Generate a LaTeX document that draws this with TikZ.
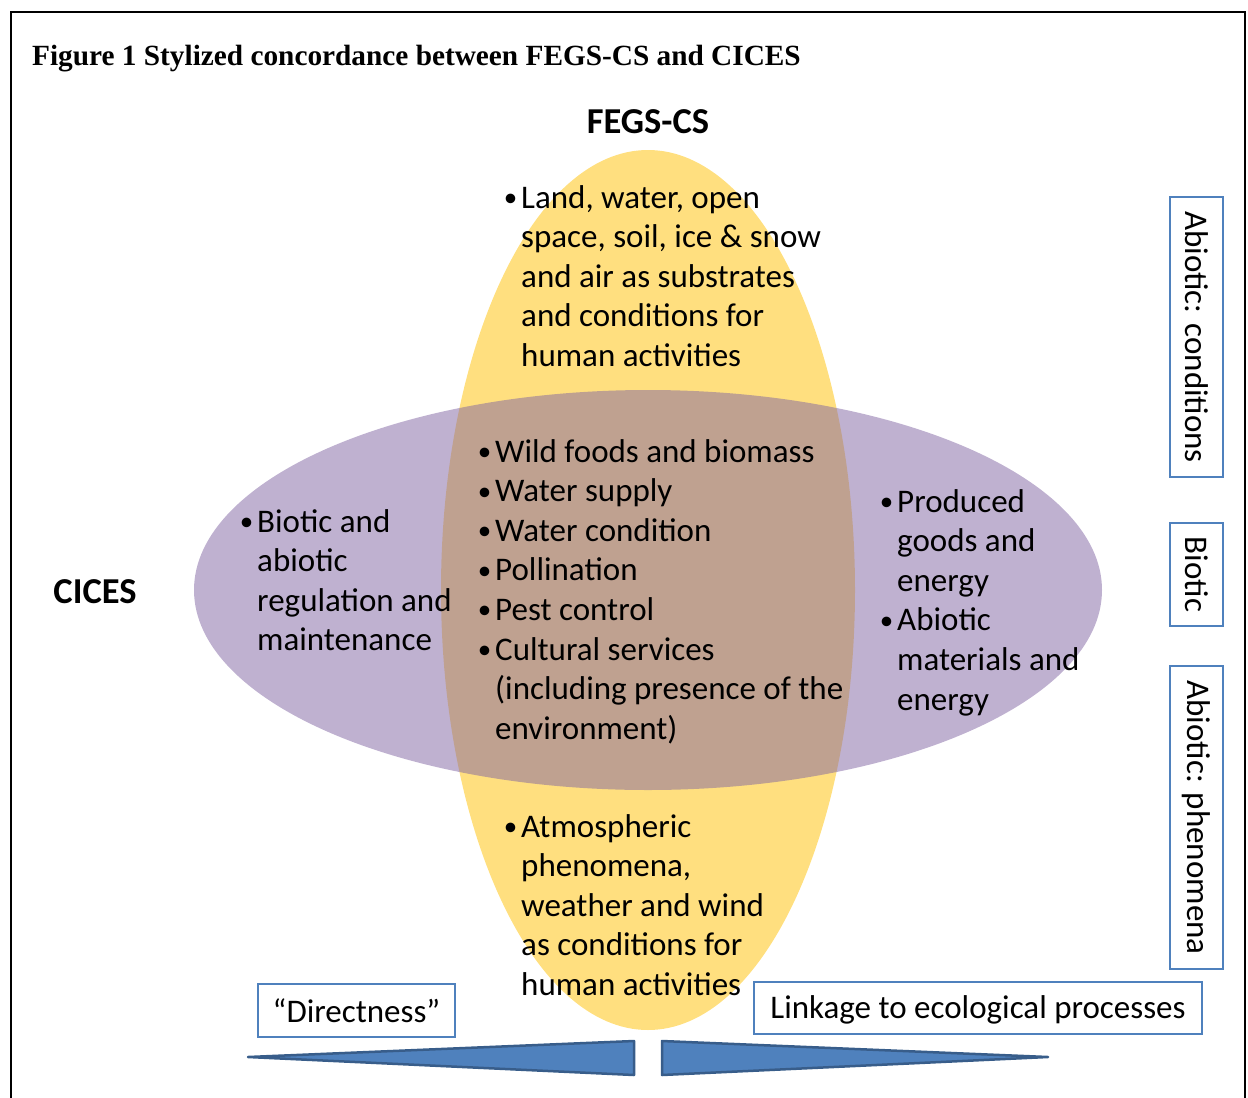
\documentclass[tikz,border=0pt]{standalone}
\usepackage{fontspec}
\setmainfont{Carlito}
\newfontfamily\titlefont{Liberation Serif}
\definecolor{yel}{HTML}{FFC000}
\definecolor{pur}{HTML}{8064A2}
\definecolor{boxblue}{HTML}{4F81BD}
\definecolor{arrfill}{HTML}{4F81BD}
\definecolor{arrdraw}{HTML}{385D8A}
\newcommand{\bul}{\llap{\raisebox{1.5pt}{\fontsize{27}{27}\selectfont\textbullet}\hspace{4pt}}}
\newcommand{\blk}[1]{\begin{tabular}[t]{@{}l@{}}#1\end{tabular}}
\begin{document}
\begin{tikzpicture}[x=1pt,y=-1pt,
  txt/.style={font=\fontsize{33}{39.6}\selectfont, inner sep=0pt, anchor=base west},
  hdr/.style={font=\fontsize{36.5}{40}\selectfont\bfseries, inner sep=0pt, anchor=base},
  lblbox/.style={draw=boxblue, line width=1.2pt, fill=white, inner sep=0pt, font=\fontsize{33}{38}\selectfont},
  wedge/.style={fill=arrfill, draw=arrdraw, line width=2.5pt, line join=round}]
\useasboundingbox (0,0) rectangle (1248,1098);
% frame
\draw[line width=2pt] (11,1100) -- (11,12) -- (1245,12) -- (1245,1100);
% title
\node[inner sep=0pt, anchor=base west, font=\titlefont\fontsize{29.3}{34}\selectfont\bfseries] (title) at (32,65) {Figure 1 Stylized concordance between FEGS-CS and CICES};
% ellipses
\fill[yel, opacity=0.5] (648,590) ellipse [x radius=207, y radius=440];
\fill[pur, opacity=0.5] (648,590) ellipse [x radius=454, y radius=200];
% headers
\node[hdr] (fegs) at (648,133) {FEGS-CS};
\node[hdr] (cices) at (95,603) {CICES};
% text blocks
\node[txt] (top) at (521,208) {\blk{\bul Land, water, open\\space, soil, ice \& snow\\and air as substrates\\and conditions for\\human activities}};
\node[txt] (mid) at (495,462) {\blk{\bul Wild foods and biomass\\\bul Water supply\\\bul Water condition\\\bul Pollination\\\bul Pest control\\\bul Cultural services\\(including presence of the\\environment)}};
\node[txt] (left) at (257,532) {\blk{\bul Biotic and\\abiotic\\regulation and\\maintenance}};
\node[txt] (right) at (897,512) {\blk{\bul Produced\\goods and\\energy\\\bul Abiotic\\materials and\\energy}};
\node[txt] (bot) at (521,837) {\blk{\bul Atmospheric\\phenomena,\\weather and wind\\as conditions for\\human activities}};
% right boxes
\node[lblbox, rotate=-90, minimum width=280, minimum height=53] (abc) at (1196.5,337) {Abiotic: conditions};
\node[lblbox, rotate=-90, minimum width=103, minimum height=53] (bio) at (1196.5,574.5) {Biotic};
\node[lblbox, rotate=-90, minimum width=303, minimum height=53] (abp) at (1196.5,817.5) {Abiotic: phenomena};
% bottom boxes
\node[lblbox, minimum width=197, minimum height=53] (dir) at (356.5,1010.5) {“Directness”};
\node[lblbox, minimum width=448, minimum height=52, text depth=2pt] (link) at (978,1008) {Linkage to ecological processes};
% wedges
\draw[wedge] (248,1057) -- (634,1041) -- (634,1075) -- cycle;
\draw[wedge] (662,1041) -- (1048,1057) -- (662,1075) -- cycle;
\end{tikzpicture}
\end{document}
